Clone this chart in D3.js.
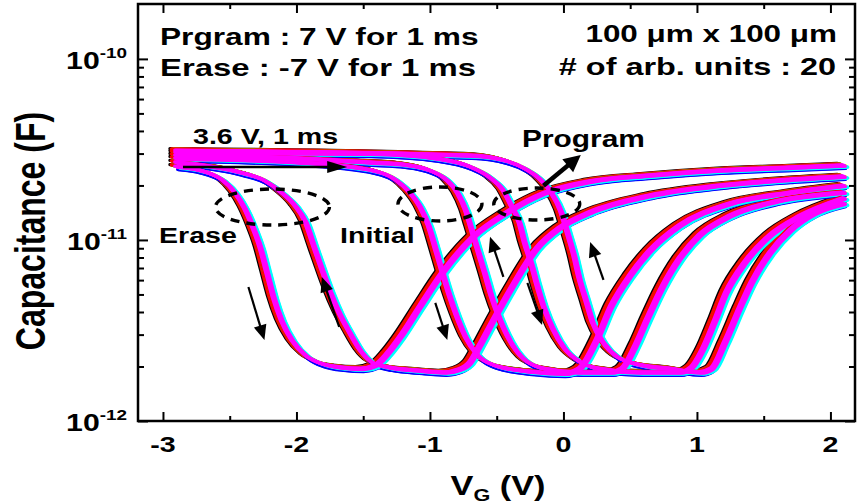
<!DOCTYPE html>
<html>
<head>
<meta charset="utf-8">
<script src="https://cdn.jsdelivr.net/npm/d3@7"></script>
<style>
  html, body { margin: 0; padding: 0; background: #fff; }
  svg { display: block; font-family: "Liberation Sans", Arial, Helvetica, sans-serif; font-weight: bold; }
</style>
</head>
<body>
<svg id="chart" width="857" height="504"></svg>
<script>
// C-V sweeps: [gate voltage (V), capacitance (F)] for each state and sweep direction
const eraseFwd = [[-2.90,2.56e-11],[-2.67,2.38e-11],[-2.55,2.15e-11],[-2.46,1.84e-11],[-2.39,1.52e-11],[-2.33,1.21e-11],
  [-2.27,9.15e-12],[-2.22,6.66e-12],[-2.17,4.84e-12],[-2.11,3.61e-12],[-2.03,2.80e-12],[-1.93,2.32e-12],[-1.81,2.09e-12],
  [-1.66,1.99e-12],[-1.51,1.96e-12],[-1.41,2.04e-12],[-1.31,2.41e-12],[-1.22,2.95e-12],[-1.07,4.37e-12],[-0.91,6.57e-12],
  [-0.68,1.04e-11],[-0.42,1.43e-11],[-0.15,1.82e-11],[0.20,2.12e-11],[0.65,2.29e-11],[1.17,2.44e-11],[1.70,2.53e-11],[2.10,2.60e-11]];
const eraseRev = [[-2.90,2.70e-11],[-2.42,2.38e-11],[-2.24,2.15e-11],[-2.11,1.84e-11],[-2.01,1.56e-11],[-1.93,1.26e-11],
  [-1.87,9.38e-12],[-1.81,7.00e-12],[-1.75,5.29e-12],[-1.68,4.00e-12],[-1.60,3.10e-12],[-1.52,2.47e-12],[-1.43,2.12e-12],
  [-1.30,1.99e-12],[-1.07,1.91e-12],[-0.89,1.87e-12],[-0.78,1.94e-12],[-0.70,2.12e-12],[-0.63,2.60e-12],[-0.55,3.35e-12],
  [-0.40,5.29e-12],[-0.20,9.03e-12],[-0.03,1.17e-11],[0.20,1.43e-11],[0.65,1.77e-11],[1.17,2.01e-11],[1.70,2.17e-11],[2.10,2.26e-11]];
const initialFwd = [[-2.90,2.84e-11],[-1.97,2.70e-11],[-1.43,2.44e-11],[-1.25,2.15e-11],[-1.15,1.84e-11],[-1.07,1.52e-11],
  [-1.01,1.21e-11],[-0.96,9.15e-12],[-0.91,6.83e-12],[-0.86,5.16e-12],[-0.80,3.85e-12],[-0.73,2.91e-12],[-0.64,2.32e-12],
  [-0.51,2.04e-12],[-0.25,1.89e-12],[0.00,1.84e-12],[0.12,1.96e-12],[0.24,2.73e-12],[0.36,4.37e-12],[0.50,6.41e-12],
  [0.65,8.81e-12],[0.87,1.21e-11],[1.25,1.60e-11],[1.70,1.84e-11],[2.10,2.01e-11]];
const initialRev = [[-2.90,2.95e-11],[-1.97,2.84e-11],[-1.45,2.70e-11],[-1.20,2.63e-11],[-1.00,2.44e-11],[-0.87,2.15e-11],
  [-0.79,1.82e-11],[-0.73,1.46e-11],[-0.69,1.17e-11],[-0.64,8.81e-12],[-0.59,6.66e-12],[-0.54,4.97e-12],[-0.48,3.75e-12],
  [-0.40,2.80e-12],[-0.30,2.23e-12],[-0.14,1.96e-12],[0.12,1.87e-12],[0.36,1.87e-12],[0.44,1.96e-12],[0.54,2.63e-12],
  [0.63,3.71e-12],[0.74,5.50e-12],[0.87,7.95e-12],[1.02,1.07e-11],[1.25,1.37e-11],[1.62,1.66e-11],[2.10,1.84e-11]];
const programFwd = [[-2.90,3.06e-11],[-1.45,3.02e-11],[-0.95,2.84e-11],[-0.70,2.56e-11],[-0.55,2.23e-11],[-0.45,1.89e-11],
  [-0.39,1.56e-11],[-0.33,1.26e-11],[-0.29,9.75e-12],[-0.24,7.46e-12],[-0.20,5.79e-12],[-0.15,4.37e-12],[-0.08,3.27e-12],
  [0.01,2.53e-12],[0.12,2.15e-12],[0.27,1.96e-12],[0.57,1.87e-12],[0.87,1.87e-12],[0.96,1.99e-12],[1.04,2.47e-12],
  [1.13,3.52e-12],[1.22,5.16e-12],[1.36,7.56e-12],[1.55,1.07e-11],[1.77,1.36e-11],[2.10,1.71e-11]];
const programRev = [[-2.90,3.14e-11],[-0.70,2.95e-11],[-0.44,2.77e-11],[-0.29,2.50e-11],[-0.18,2.20e-11],[-0.09,1.84e-11],
  [-0.02,1.46e-11],[0.03,1.11e-11],[0.08,8.26e-12],[0.12,6.17e-12],[0.17,4.66e-12],[0.22,3.52e-12],[0.30,2.73e-12],
  [0.40,2.29e-12],[0.57,2.06e-12],[0.80,1.96e-12],[1.02,1.87e-12],[1.11,1.96e-12],[1.21,2.73e-12],[1.32,4.21e-12],
  [1.41,5.86e-12],[1.55,8.59e-12],[1.70,1.14e-11],[1.88,1.41e-11],[2.10,1.60e-11]];

const sweeps = [eraseFwd, eraseRev, initialFwd, initialRev, programFwd, programRev];

// 20 measured units: trace colour and small device-to-device spread
const unitColor = ["#000000","#ff0000","#ff0000","#00ff00","#ffff00","#ff0000","#00ff00","#0000ff","#ffff00","#0000ff",
                   "#00ffff","#00ffff","#00ff00","#ff0000","#ff00ff","#ff00ff","#ff00ff","#ff00ff","#ff00ff","#ff00ff"];
const unitShiftV = [-0.048,-0.038,-0.032,-0.028,-0.024,-0.030,-0.020,0.010,0.016,0.014,
                    0.030,0.026,0.004,-0.022,-0.012,-0.006,0.000,0.006,0.012,0.003];
const unitShiftDecade = [0.008,0.006,0.005,0.004,0.003,0.004,0.002,-0.018,-0.006,-0.020,
                         -0.013,-0.011,-0.004,0.003,0.000,-0.002,-0.004,-0.006,-0.008,-0.003];

// Axis ticks
const xMajor = [-3,-2,-1,0,1,2];
const xMinor = [-2.5,-1.5,-0.5,0.5,1.5];
const yMajor = [1e-12,1e-11,1e-10];
const yMajorExp = ["-12","-11","-10"];
const yMinor = [2e-12,3e-12,4e-12,5e-12,6e-12,7e-12,8e-12,9e-12,2e-11,3e-11,4e-11,5e-11,6e-11,7e-11,8e-11,9e-11];

// Annotations (data coordinates)
const sweepArrows = [
  {from:[-2.36,5.50e-12], to:[-2.24,2.80e-12]},
  {from:[-1.68,3.31e-12], to:[-1.81,6.25e-12]},
  {from:[-0.96,4.49e-12], to:[-0.87,2.80e-12]},
  {from:[-0.45,6.25e-12], to:[-0.55,1.04e-11]},
  {from:[-0.27,5.79e-12], to:[-0.16,3.39e-12]},
  {from:[0.30,6.01e-12],  to:[0.20,9.75e-12]}
];
const pulseArrow = {from:[-2.85,2.53e-11], to:[-1.62,2.53e-11]};
const programArrow = {from:[-0.15,1.99e-11], to:[0.13,2.95e-11]};
const stateRings = [
  {c:[-2.18,1.52e-11], rx:57, ry:18},
  {c:[-0.925,1.58e-11], rx:42, ry:17},
  {c:[-0.20,1.58e-11], rx:43, ry:16}
];

const svg = d3.select("#chart");
const L = 138, R = 855, T = 4, B = 421;
const x = d3.scaleLinear().domain([-3.187, 2.184]).range([L, R]);
const y = d3.scaleLog().domain([1e-12, 2.01e-10]).range([B, T]);

// curves
const curves = svg.append("g").attr("fill", "none").attr("stroke-width", 3.2)
  .attr("stroke-linejoin", "round").attr("stroke-linecap", "round");
unitColor.forEach((col, i) => {
  const line = d3.line()
    .x(d => x(d[0] + unitShiftV[i]))
    .y(d => y(d[1] * Math.pow(10, unitShiftDecade[i])))
    .curve(d3.curveMonotoneX);
  sweeps.forEach(s => curves.append("path").attr("d", line(s)).attr("stroke", col));
});

// axes: inward ticks on all four sides
function styleAxis(g) {
  g.select(".domain").remove();
  g.selectAll(".tick line").attr("stroke", "#000").attr("stroke-width", 2);
  g.selectAll(".tick text").remove();
}
svg.append("g").attr("transform", `translate(0,${B})`).call(d3.axisBottom(x).tickValues(xMajor).tickSize(-9).tickFormat("")).call(styleAxis);
svg.append("g").attr("transform", `translate(0,${B})`).call(d3.axisBottom(x).tickValues(xMinor).tickSize(-5).tickFormat("")).call(styleAxis);
svg.append("g").attr("transform", `translate(0,${T})`).call(d3.axisTop(x).tickValues(xMajor).tickSize(-9).tickFormat("")).call(styleAxis);
svg.append("g").attr("transform", `translate(0,${T})`).call(d3.axisTop(x).tickValues(xMinor).tickSize(-5).tickFormat("")).call(styleAxis);
svg.append("g").attr("transform", `translate(${L},0)`).call(d3.axisLeft(y).tickValues(yMajor).tickSize(-10).tickFormat("")).call(styleAxis);
svg.append("g").attr("transform", `translate(${L},0)`).call(d3.axisLeft(y).tickValues(yMinor).tickSize(-6).tickFormat("")).call(styleAxis);
svg.append("g").attr("transform", `translate(${R},0)`).call(d3.axisRight(y).tickValues(yMajor).tickSize(-10).tickFormat("")).call(styleAxis);
svg.append("g").attr("transform", `translate(${R},0)`).call(d3.axisRight(y).tickValues(yMinor).tickSize(-6).tickFormat("")).call(styleAxis);
svg.append("rect").attr("x", L).attr("y", T).attr("width", R - L).attr("height", B - T)
  .attr("fill", "none").attr("stroke", "#000").attr("stroke-width", 2.5);

// text helper: glyphs are drawn wide, so stretch horizontally
function label(txt, px, py, size, anchor, sx) {
  return svg.append("text")
    .attr("transform", `translate(${px},${py}) scale(${sx},1)`)
    .attr("text-anchor", anchor).attr("font-size", size).attr("fill", "#000").text(txt);
}

// tick labels
xMajor.forEach(v => label(v < 0 ? "-" + Math.abs(v) : String(v), x(v), 452, 22, "middle", 1.3));
yMajor.forEach((v, i) => {
  const t = svg.append("text")
    .attr("transform", `translate(127,${y(v) + 10}) scale(1.26,1)`)
    .attr("text-anchor", "end").attr("font-size", 24);
  t.append("tspan").text("10");
  t.append("tspan").attr("font-size", 15).attr("dy", -11).text(yMajorExp[i]);
});

// axis titles
const xt = svg.append("text").attr("transform", "translate(498,495) scale(1.27,1)")
  .attr("text-anchor", "middle").attr("font-size", 27);
xt.append("tspan").text("V");
xt.append("tspan").attr("font-size", 17).attr("dy", 6).text("G");
xt.append("tspan").attr("dy", -6).text(" (V)");
svg.append("text").attr("transform", "translate(45,231) scale(1.3,1) rotate(-90)")
  .attr("text-anchor", "middle").attr("font-size", 32).text("Capacitance (F)");

// condition notes
label("Prgram : 7 V for 1 ms", 160, 45, 24, "start", 1.32);
label("Erase : -7 V for 1 ms", 160, 76, 24, "start", 1.37);
label("100 \u03bcm x 100 \u03bcm", 837, 42, 24, "end", 1.31);
label("# of arb. units : 20", 836, 75, 24, "end", 1.35);
label("3.6 V, 1 ms", 193, 144, 22, "start", 1.3);
label("Erase", 159, 243, 22, "start", 1.3);
label("Initial", 340, 243, 22, "start", 1.3);
label("Program", 522, 147, 23, "start", 1.3);

// arrows
function arrow(a, lw, headLen, headHalf) {
  const x0 = x(a.from[0]), y0 = y(a.from[1]), x1 = x(a.to[0]), y1 = y(a.to[1]);
  const ang = Math.atan2(y1 - y0, x1 - x0);
  const bx = x1 - headLen * Math.cos(ang), by = y1 - headLen * Math.sin(ang);
  const nx = -Math.sin(ang) * headHalf, ny = Math.cos(ang) * headHalf;
  svg.append("line").attr("x1", x0).attr("y1", y0).attr("x2", bx + Math.cos(ang)).attr("y2", by + Math.sin(ang))
    .attr("stroke", "#000").attr("stroke-width", lw);
  svg.append("path").attr("d", `M${x1},${y1}L${bx + nx},${by + ny}L${bx - nx},${by - ny}Z`).attr("fill", "#000");
}
sweepArrows.forEach(a => arrow(a, 2.2, 15, 6.5));
arrow(pulseArrow, 2.6, 20, 6);
arrow(programArrow, 4.5, 17, 8.5);

// dashed rings around the state pairs
stateRings.forEach(r => svg.append("ellipse")
  .attr("cx", x(r.c[0])).attr("cy", y(r.c[1])).attr("rx", r.rx).attr("ry", r.ry)
  .attr("fill", "none").attr("stroke", "#000").attr("stroke-width", 3.4).attr("stroke-dasharray", "9,7"));
</script>
</body>
</html>
